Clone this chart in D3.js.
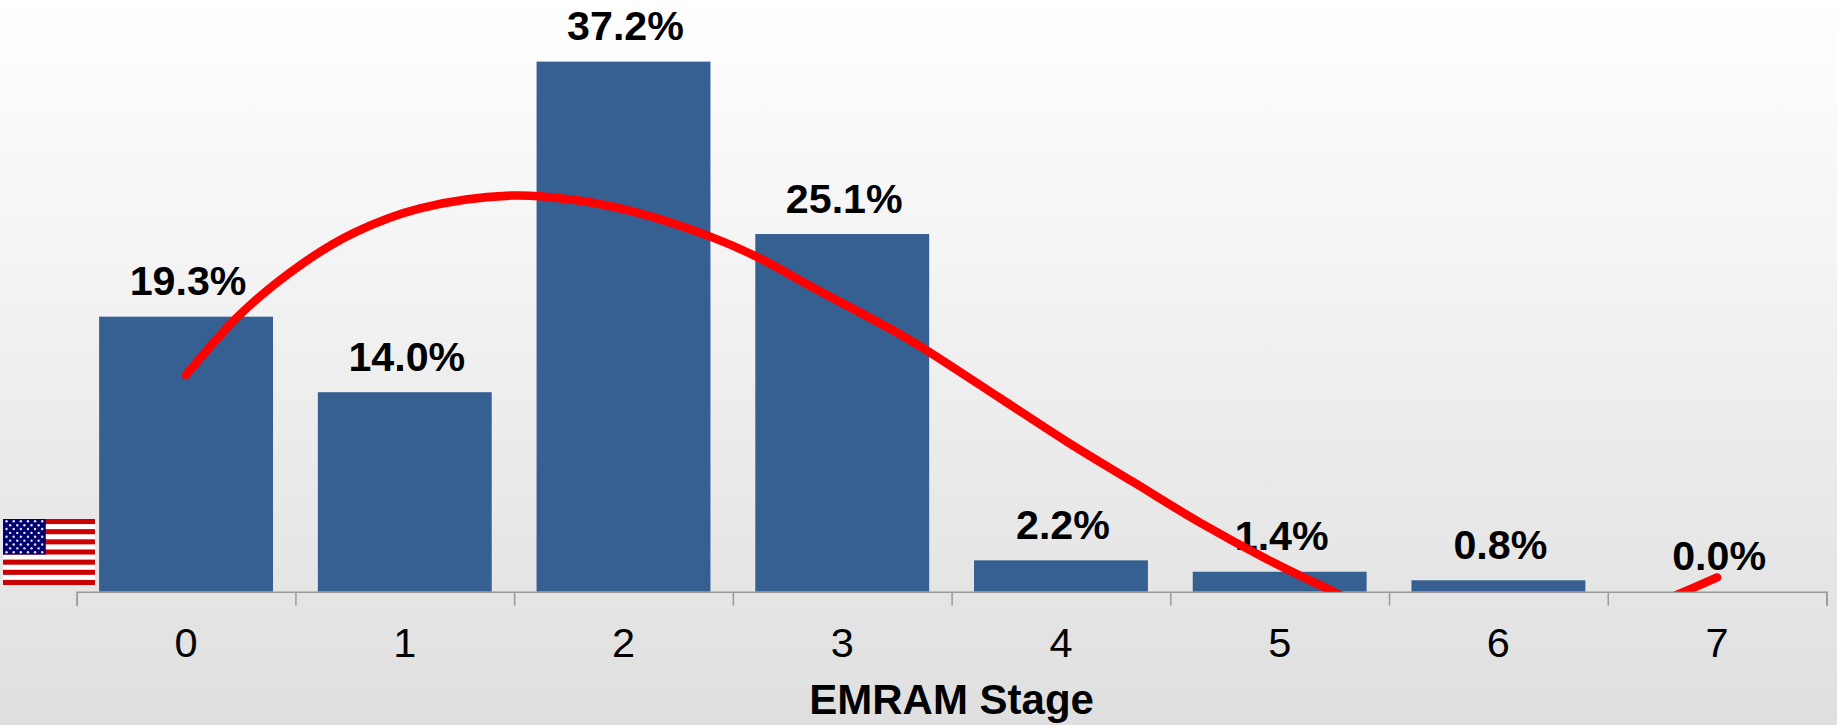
<!DOCTYPE html>
<html>
<head>
<meta charset="utf-8">
<script src="https://cdn.jsdelivr.net/npm/d3@7"></script>
<style>
  html, body { margin: 0; padding: 0; background: #fff; overflow: hidden; }
  svg { display: block; font-family: "Liberation Sans", Arial, sans-serif; }
</style>
</head>
<body>
<svg id="chart" width="1837" height="725"></svg>
<script>
// EMRAM stage distribution (percent of hospitals)
const stages = ["0", "1", "2", "3", "4", "5", "6", "7"];
const shares = [19.3, 14.0, 37.2, 25.1, 2.2, 1.4, 0.8, 0.0];
const axisTitle = "EMRAM Stage";

// Trend line, sampled along the stage axis; it dips under zero around stage 6
const trendStages = [0, 0.25, 0.53, 0.77, 1.07, 1.49, 1.77, 2.05, 2.40, 2.61, 2.86, 3.26, 3.40, 3.72, 4.03, 4.33, 4.63, 4.94, 5.24, 5.55, 6.0, 6.46, 6.85, 7];
const trendShares = [15.2, 19.5, 23.0, 25.2, 26.9, 27.8, 27.5, 26.65, 24.9, 23.5, 21.4, 18.1, 16.8, 13.6, 10.5, 7.7, 4.9, 2.3, 0.05, -2.2, -3.8, -2.4, 0, 1.0];

const width = 1837, height = 725;
const margin = { left: 76.7, right: 10.5, bottom: 133.3 };
const plotBottom = height - margin.bottom;
const plotRight = width - margin.right;

const svg = d3.select("#chart");

// Backdrop fading from white to light grey
const defs = svg.append("defs");
const fade = defs.append("linearGradient")
  .attr("id", "backdrop").attr("x1", 0).attr("y1", 0).attr("x2", 0).attr("y2", 1);
fade.append("stop").attr("offset", "0%").attr("stop-color", "#ffffff");
fade.append("stop").attr("offset", "100%").attr("stop-color", "#dfdfdf");
svg.append("rect").attr("width", width).attr("height", height).attr("fill", "url(#backdrop)");

const x = d3.scaleBand().domain(stages).range([margin.left, plotRight]).paddingInner(0.205).paddingOuter(0.1025);
const xEdges = d3.scaleLinear().domain([0, stages.length]).range([margin.left, plotRight]);
const xStage = d3.scaleLinear()
  .domain([0, stages.length - 1])
  .range([x("0") + x.bandwidth() / 2, x("7") + x.bandwidth() / 2]);
const y = d3.scaleLinear().domain([0, 40]).range([plotBottom, plotBottom - 570]);

// Bars
svg.append("g").selectAll("rect")
  .data(stages)
  .join("rect")
  .attr("x", d => x(d))
  .attr("y", (d, i) => y(shares[i]))
  .attr("width", x.bandwidth())
  .attr("height", (d, i) => y(0) - y(shares[i]))
  .attr("fill", "#376092");

// Axis line with ticks on the category boundaries
const edgeAxis = svg.append("g")
  .attr("transform", `translate(0,${plotBottom})`)
  .call(d3.axisBottom(xEdges).tickValues(d3.range(stages.length + 1)).tickSize(14).tickSizeOuter(14).tickFormat(""));
edgeAxis.selectAll("path, line").attr("stroke", "#9a9a9a").attr("stroke-width", 1.5);

// Category labels
const labelAxis = svg.append("g")
  .attr("transform", `translate(0,${plotBottom})`)
  .call(d3.axisBottom(x).tickSize(0).tickPadding(36));
labelAxis.select("path").remove();
labelAxis.selectAll("text")
  .attr("dy", null)
  .attr("y", 65.5)
  .attr("font-size", 41.5)
  .attr("font-family", "'Liberation Sans', Arial, sans-serif")
  .attr("fill", "#000");

// Value labels
svg.append("g").selectAll("text")
  .data(stages)
  .join("text")
  .attr("x", d => x(d) + x.bandwidth() / 2 + 2)
  .attr("y", (d, i) => y(shares[i]) - 21.5)
  .attr("text-anchor", "middle")
  .attr("font-size", 41.2)
  .attr("font-weight", "bold")
  .attr("fill", "#000")
  .text((d, i) => shares[i].toFixed(1) + "%");

svg.append("text")
  .attr("x", (margin.left + plotRight) / 2)
  .attr("y", 714)
  .attr("text-anchor", "middle")
  .attr("font-size", 42)
  .attr("font-weight", "bold")
  .attr("fill", "#000")
  .text(axisTitle);

// Trend line, cut off at the axis
defs.append("clipPath").attr("id", "aboveAxis")
  .append("rect").attr("x", 0).attr("y", 0).attr("width", width).attr("height", plotBottom);
const trend = d3.line()
  .x((d, i) => xStage(trendStages[i]))
  .y(d => y(d))
  .curve(d3.curveCatmullRom.alpha(0.5));
svg.append("path")
  .attr("clip-path", "url(#aboveAxis)")
  .attr("d", trend(trendShares))
  .attr("fill", "none")
  .attr("stroke", "#ff0000")
  .attr("stroke-width", 8.5)
  .attr("stroke-linecap", "round");

// United States flag beside the first bar
const flag = svg.append("g").attr("transform", "translate(3,519)");
const flagW = 92, flagH = 66, stripeH = flagH / 13;
flag.append("rect").attr("width", flagW).attr("height", flagH).attr("fill", "#ffffff");
flag.selectAll("rect.stripe")
  .data(d3.range(0, 13, 2))
  .join("rect")
  .attr("class", "stripe")
  .attr("y", d => d * stripeH)
  .attr("width", flagW)
  .attr("height", stripeH)
  .attr("fill", "#cc0000");
const cantonW = flagW * 0.465, cantonH = stripeH * 7;
flag.append("rect").attr("width", cantonW).attr("height", cantonH).attr("fill", "#00006e");
const starCells = d3.range(9).flatMap(row =>
  d3.range(row % 2 ? 5 : 6).map(col => ({ row, col })));
flag.selectAll("circle")
  .data(starCells)
  .join("circle")
  .attr("cx", d => (d.col + (d.row % 2 ? 1 : 0.5)) * cantonW / 6)
  .attr("cy", d => (d.row + 0.6) * cantonH / 9.2)
  .attr("r", 1.2)
  .attr("fill", "#e6e6f5");
</script>
</body>
</html>
